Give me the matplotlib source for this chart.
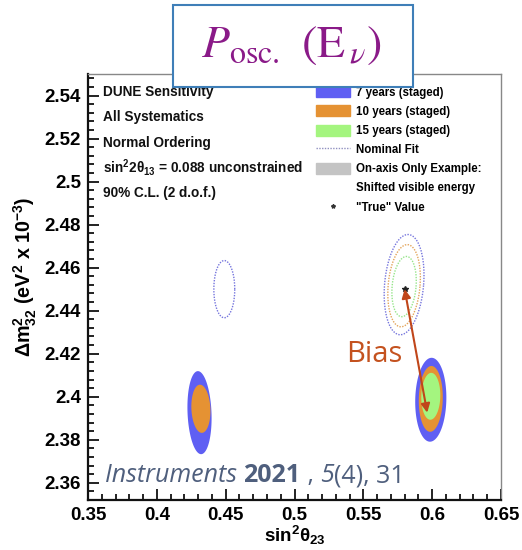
import numpy as np
import matplotlib
matplotlib.use("Agg")
import matplotlib.pyplot as plt
from matplotlib.patches import Patch, Rectangle
from matplotlib.lines import Line2D
from matplotlib.ticker import MultipleLocator, FuncFormatter

plt.rcParams['font.family'] = ['Liberation Sans', 'DejaVu Sans']
plt.rcParams['mathtext.fontset'] = 'custom'
plt.rcParams['mathtext.rm'] = 'Liberation Sans:bold'
plt.rcParams['mathtext.it'] = 'Liberation Sans:bold:italic'
plt.rcParams['mathtext.bf'] = 'Liberation Sans:bold'

# filled 90% CL regions (shifted visible energy fit)
fill_exposure = ['7', '10', '7', '10', '15']
fill_cx = [0.431, 0.432, 0.599, 0.599, 0.599]
fill_cy = [2.3926, 2.3944, 2.3986, 2.3990, 2.4002]
fill_a = [0.0087, 0.0069, 0.0113, 0.0087, 0.0069]
fill_b = [0.0193, 0.0112, 0.0195, 0.0153, 0.0109]
fill_tilt = [-0.06, -0.06, 0.03, 0.03, 0.03]

# nominal fit contours (dotted)
nom_exposure = ['7', '7', '10', '15']
nom_cx = [0.449, 0.5796, 0.5796, 0.5796]
nom_cy = [2.4500, 2.4521, 2.4516, 2.4512]
nom_a = [0.0076, 0.0142, 0.0116, 0.0087]
nom_b = [0.0133, 0.0233, 0.0191, 0.0140]
nom_tilt = [0.0, 0.12, 0.12, 0.12]

true_value = (0.58, 2.45)
bias_end = (0.5964, 2.3926)

info_lines = ['DUNE Sensitivity', 'All Systematics', 'Normal Ordering',
              r'sin$^{2}$2$\mathrm{\theta}_{13}$ = 0.088 unconstrained', '90% C.L. (2 d.o.f.)']

fill_colors = {'7': '#5f5ff3', '10': '#e59233', '15': '#a4f57f'}
dot_colors = {'7': '#7575dd', '10': '#e3a45a', '15': '#96e58a'}


def ellipse(cx, cy, a, b, s):
    t = np.linspace(0, 2 * np.pi, 240)
    dy = b * np.sin(t)
    return cx + a * np.cos(t) + s * dy, cy + dy


fig = plt.figure(figsize=(5.22, 5.50), dpi=100)
ax = fig.add_axes([88 / 522, 1 - 500 / 550, 413 / 522, 426 / 550])

for i in range(len(fill_cx)):
    x, y = ellipse(fill_cx[i], fill_cy[i], fill_a[i], fill_b[i], fill_tilt[i])
    ax.fill(x, y, color=fill_colors[fill_exposure[i]], lw=0, zorder=2 + i * 0.1)

for i in range(len(nom_cx)):
    x, y = ellipse(nom_cx[i], nom_cy[i], nom_a[i], nom_b[i], nom_tilt[i])
    ax.plot(x, y, color=dot_colors[nom_exposure[i]], lw=1.0, ls=(0, (1, 1)), zorder=3)

ax.plot(*true_value, marker='*', color='#222222', ms=4, zorder=5)

ax.set_xlim(0.35, 0.65)
ax.set_ylim(2.352, 2.55)
ax.xaxis.set_major_locator(MultipleLocator(0.05))
ax.xaxis.set_minor_locator(MultipleLocator(0.01))
ax.yaxis.set_major_locator(MultipleLocator(0.02))
ax.yaxis.set_minor_locator(MultipleLocator(0.004))
fmt = FuncFormatter(lambda v, p: '%g' % round(v, 3))
ax.xaxis.set_major_formatter(fmt)
ax.yaxis.set_major_formatter(fmt)
ax.tick_params(which='both', direction='in', top=False, right=False, width=1.3, color='#111111')
ax.tick_params(which='major', length=8, labelsize=13.5, pad=5)
ax.tick_params(which='minor', length=4)
for lab in ax.get_xticklabels() + ax.get_yticklabels():
    lab.set_fontweight('bold')

for side in ['left', 'bottom']:
    ax.spines[side].set_linewidth(1.6)
    ax.spines[side].set_color('#111111')
for side in ['top', 'right']:
    ax.spines[side].set_linewidth(1.0)
    ax.spines[side].set_color('#888888')

ax.set_xlabel(r'sin$^{2}\mathrm{\theta}_{23}$', fontsize=13.5, fontweight='bold', labelpad=0)
ax.set_ylabel(r'$\Delta$m$^{2}_{32}$ (eV$^{2}$ x 10$^{-3}$)', fontsize=14.2,
              fontweight='bold')
ax.yaxis.set_label_coords(-0.118, 0.523)

for i, line in enumerate(info_lines):
    ax.text(0.037, 0.958 - i * 0.0595, line, transform=ax.transAxes, fontsize=9.8,
            fontweight='bold', va='center', ha='left', color='#111111')

handles = [Patch(color=fill_colors['7']), Patch(color=fill_colors['10']),
           Patch(color=fill_colors['15']),
           Line2D([], [], color='#9090c0', ls=(0, (1, 1)), lw=1),
           Patch(color='#c4c4c4'), Line2D([], [], color='none'),
           Line2D([], [], marker='*', color='#333333', ls='none', ms=3)]
labels = ['7 years (staged)', '10 years (staged)', '15 years (staged)', 'Nominal Fit',
          'On-axis Only Example:', 'Shifted visible energy', '"True" Value']
ax.legend(handles, labels, loc='upper left', bbox_to_anchor=(0.54, 0.982), frameon=False,
          prop={'size': 8.3, 'weight': 'bold'}, handlelength=3.0, handleheight=1.1,
          handletextpad=0.5, labelspacing=0.58, borderaxespad=0)

# bias arrow and label
ax.annotate('', xy=true_value, xytext=bias_end,
            arrowprops=dict(arrowstyle='<|-|>', color='#c0461a', lw=1.5,
                            mutation_scale=13, shrinkA=0, shrinkB=0), zorder=6)
ax.text(0.5785, 2.4163, 'Bias', color='#c4521f', fontsize=21, family='Open Sans',
        ha='right', va='baseline', zorder=6)

# citation
cite_color = '#4f5f7d'
t = ax.text(0.041, 0.042, 'Instruments ', transform=ax.transAxes, fontsize=18,
            family='Open Sans', style='italic', color=cite_color, va='baseline')
pieces = [('2021', 'normal', 'bold'), (' , ', 'normal', 'normal'),
          ('5', 'italic', 'normal'), ('(4), 31', 'normal', 'normal')]
for txt, st, wt in pieces:
    t = ax.annotate(txt, xy=(1, 0), xycoords=t, fontsize=18, family='Open Sans', style=st,
                    fontweight=wt, color=cite_color, va='bottom', ha='left')

# title box
fig.add_artist(Rectangle((173 / 522, 1 - 87 / 550), 240 / 522, 82 / 550,
                         transform=fig.transFigure, fc='white', ec='#3f7fb8', lw=1.5,
                         zorder=10))
fig.text(291 / 522, 1 - 45 / 550, r'$P_{\rm osc.}\;\, (\mathrm{E}_{\,\nu})$', fontsize=33,
         math_fontfamily='stix', color='#8a1a88', ha='center', va='center', zorder=11)

fig.savefig('out.png', dpi=100)
